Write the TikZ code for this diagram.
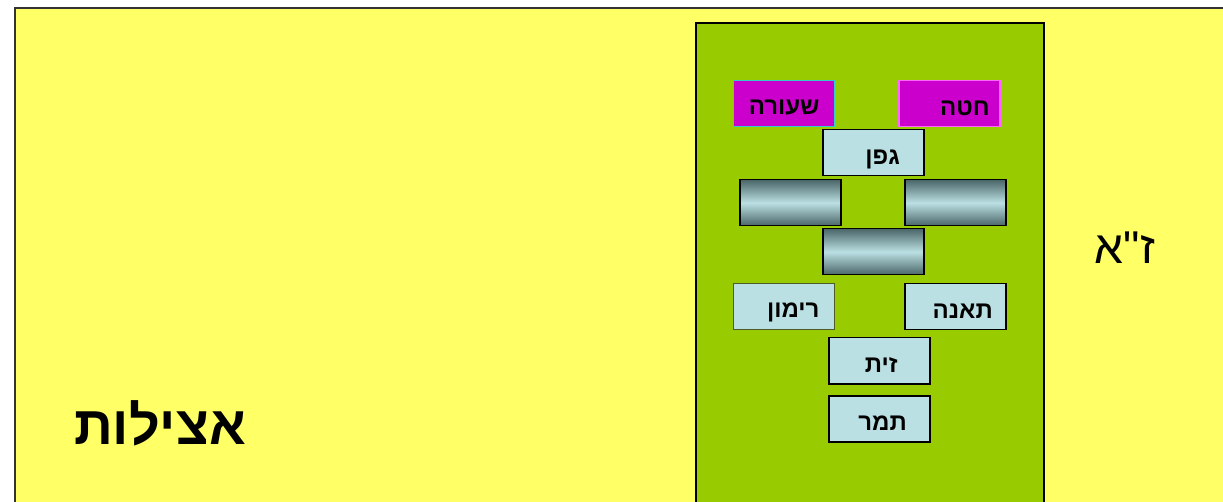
\documentclass[tikz,border=0pt]{standalone}
\usepackage{fontspec}
\newfontfamily\heb[Script=Hebrew,BoldFont={Liberation Sans Bold}]{Liberation Sans}
\TeXXeTstate=1
\definecolor{bgyellow}{HTML}{FFFF66}
\definecolor{ingreen}{HTML}{99CC00}
\definecolor{mag}{HTML}{CC00CC}
\definecolor{lblue}{HTML}{BBE0E3}
\definecolor{darkteal}{HTML}{4A6668}
\definecolor{cyanb}{HTML}{33CCCC}
\definecolor{pinkb}{HTML}{FF66FF}
\definecolor{oliveb}{HTML}{4D5A2A}
\begin{document}
\begin{tikzpicture}[x=1pt,y=-1pt,
  box/.style={minimum width=101pt,minimum height=46pt,inner sep=0pt,anchor=north west,
    draw=black,line width=1.5pt,fill=lblue,
    text width=101pt-2*#1,align=right,text height=23pt,text depth=0pt,
    font=\heb\bfseries\fontsize{24}{26}\selectfont},
  box/.default=12pt,
  magbox/.style={box=#1,fill=mag,line width=1pt},
  gradbox/.style={minimum width=101pt,minimum height=46pt,inner sep=0pt,anchor=north west,
    draw=black,line width=1.5pt,top color=darkteal,bottom color=darkteal,middle color=lblue}
]
\useasboundingbox (0,0) rectangle (1223,502);
\fill[white] (0,0) rectangle (1223,502);
\draw[draw=black!80,line width=1.5pt,fill=bgyellow] (15,8) rectangle (1240,520);
\draw[black,line width=1.5pt,fill=ingreen] (696,23) rectangle (1044,520);

\node[magbox=15pt,draw=cyanb] (se) at (733,80) {\beginR שעורה\endR};
\node[magbox=10pt,draw=pinkb,line width=1.5pt] (ch) at (898,80) {\beginR חטה\endR};
\node[box=24pt] (ge) at (822,129) {\beginR גפן\endR};
\node[gradbox] (g1) at (739,179) {};
\node[gradbox] (g2) at (904,179) {};
\node[gradbox] (g3) at (822,228) {};
\node[box=15pt,draw=oliveb,line width=1pt] (ri) at (733,283) {\beginR רימון\endR};
\node[box=13pt] (te) at (904,283) {\beginR תאנה\endR};
\node[box=36pt] (za) at (828,337) {\beginR זית\endR};
\node[box=23pt] (ta) at (828,395) {\beginR תמר\endR};

\node[font=\heb\fontsize{46}{48}\selectfont] (za2) at (1125,248) {\beginR ז"א\endR};
\node[font=\heb\bfseries\fontsize{54}{56}\selectfont] (ats) at (160,423) {\beginR אצילות\endR};
\end{tikzpicture}
\end{document}
